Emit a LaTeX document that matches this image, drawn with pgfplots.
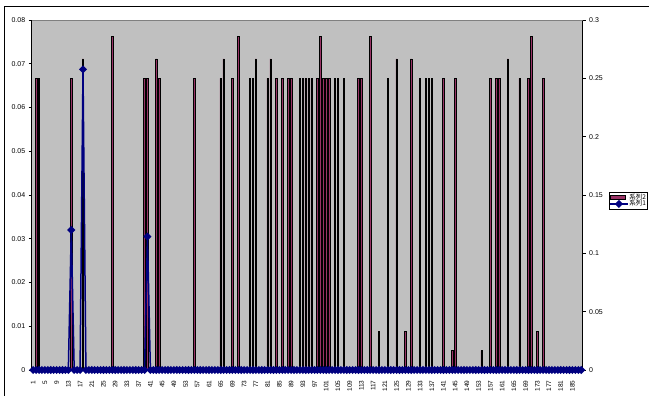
\documentclass[border=0pt]{standalone}
\usepackage{pgfplots}
\pgfplotsset{compat=1.18}
\usepackage{fontspec}
\setmainfont{Liberation Sans}
\newfontfamily\jp{Noto Sans CJK JP}
\definecolor{plum}{HTML}{993366}
\definecolor{navyb}{HTML}{000080}
\definecolor{bg}{HTML}{C0C0C0}
\pgfplotsset{my bar legend/.style={legend image code/.code={\draw[##1] (0pt,-2.2pt) rectangle (15pt,2.2pt);}},
  /pgf/number format/assume math mode=true}
\begin{document}
\begin{tikzpicture}
\useasboundingbox (0,0) rectangle (649pt,396pt);
\begin{scope}
\clip (0,0) rectangle (649pt,396pt);
\draw[line width=1pt] (4pt,-10pt) -- (4pt,389.5pt) -- (700pt,389.5pt);
\end{scope}
\begin{axis}[
  at={(31.7pt,26pt)}, anchor=south west, scale only axis,
  width=551pt, height=350pt,
  xmin=0.5, xmax=188.5, ymin=0, ymax=0.3,
  axis y line*=right, axis x line*=bottom,
  axis background/.style={fill=bg},
  ytick={0,0.05,0.1,0.15,0.2,0.25,0.3},
  yticklabel style={/pgf/number format/fixed, /pgf/number format/precision=2, font=\fontsize{7}{8}\selectfont},
  scaled y ticks=false,
  xtick={1,5,...,185},
  xtick style={draw=none},
  tick align=outside, major tick length=3pt,
  x tick label style={rotate=90, anchor=east, font=\fontsize{6.5}{7}\selectfont},
  xticklabel shift=4pt,
  tick style={black, line width=0.6pt},
  axis line style={black, line width=0.8pt},
]
\draw[gray, line width=0.8pt] (rel axis cs:0,1) -- (rel axis cs:1,1);
\addplot[ybar, bar width=1.5pt, draw=black, line width=0.6pt, fill=plum] table {
x y
2 0.25
3 0.25
14 0.25
18 0.2667
28 0.2857
39 0.25
40 0.25
43 0.2667
44 0.25
56 0.25
65 0.25
66 0.2667
69 0.25
71 0.2857
75 0.25
76 0.25
77 0.2667
81 0.25
82 0.2667
84 0.25
86 0.25
88 0.25
89 0.25
92 0.25
93 0.25
94 0.25
95 0.25
96 0.25
98 0.25
99 0.2857
100 0.25
101 0.25
102 0.25
104 0.25
105 0.25
107 0.25
112 0.25
113 0.25
116 0.2857
119 0.0333
122 0.25
125 0.2667
128 0.0333
130 0.2667
133 0.25
135 0.25
136 0.25
137 0.25
141 0.25
144 0.0167
145 0.25
154 0.0167
157 0.25
159 0.25
160 0.25
163 0.2667
167 0.25
170 0.25
171 0.2857
173 0.0333
175 0.25
};
\end{axis}
\begin{axis}[
  at={(31.7pt,26pt)}, anchor=south west, scale only axis,
  width=551pt, height=350pt,
  xmin=0.5, xmax=188.5, ymin=0, ymax=0.08,
  axis y line*=left, axis x line=none,
  ytick={0,0.01,0.02,0.03,0.04,0.05,0.06,0.07,0.08},
  yticklabel style={/pgf/number format/fixed, /pgf/number format/precision=2, font=\fontsize{7}{8}\selectfont},
  scaled y ticks=false,
  tick align=outside, major tick length=3pt,
  tick style={black, line width=0.6pt},
  axis line style={black, line width=0.8pt},
  clip=false,
  legend cell align=left,
  legend style={at={(1.0477,0.5086)}, anchor=north west, draw=black, fill=white,
    font=\jp\fontsize{6.5}{7}\selectfont, inner sep=0.5pt, row sep=-2pt,
    nodes={inner sep=1pt}},
]
\addlegendimage{draw=black, fill=plum, line width=0.6pt, my bar legend}
\addlegendentry{系列2}
\addplot[navyb, line width=1.5pt, mark=square*, mark size=2.1pt,
  mark options={rotate=45, solid, fill=navyb}] coordinates {
(1,0)(2,0)(3,0)(4,0)(5,0)(6,0)(7,0)(8,0)(9,0)(10,0)
(11,0)(12,0)(13,0)(14,0.032)(15,0)(16,0)(17,0)(18,0.0687)(19,0)(20,0)
(21,0)(22,0)(23,0)(24,0)(25,0)(26,0)(27,0)(28,0)(29,0)(30,0)
(31,0)(32,0)(33,0)(34,0)(35,0)(36,0)(37,0)(38,0)(39,0)(40,0.0305)
(41,0)(42,0)(43,0)(44,0)(45,0)(46,0)(47,0)(48,0)(49,0)(50,0)
(51,0)(52,0)(53,0)(54,0)(55,0)(56,0)(57,0)(58,0)(59,0)(60,0)
(61,0)(62,0)(63,0)(64,0)(65,0)(66,0)(67,0)(68,0)(69,0)(70,0)
(71,0)(72,0)(73,0)(74,0)(75,0)(76,0)(77,0)(78,0)(79,0)(80,0)
(81,0)(82,0)(83,0)(84,0)(85,0)(86,0)(87,0)(88,0)(89,0)(90,0)
(91,0)(92,0)(93,0)(94,0)(95,0)(96,0)(97,0)(98,0)(99,0)(100,0)
(101,0)(102,0)(103,0)(104,0)(105,0)(106,0)(107,0)(108,0)(109,0)(110,0)
(111,0)(112,0)(113,0)(114,0)(115,0)(116,0)(117,0)(118,0)(119,0)(120,0)
(121,0)(122,0)(123,0)(124,0)(125,0)(126,0)(127,0)(128,0)(129,0)(130,0)
(131,0)(132,0)(133,0)(134,0)(135,0)(136,0)(137,0)(138,0)(139,0)(140,0)
(141,0)(142,0)(143,0)(144,0)(145,0)(146,0)(147,0)(148,0)(149,0)(150,0)
(151,0)(152,0)(153,0)(154,0)(155,0)(156,0)(157,0)(158,0)(159,0)(160,0)
(161,0)(162,0)(163,0)(164,0)(165,0)(166,0)(167,0)(168,0)(169,0)(170,0)
(171,0)(172,0)(173,0)(174,0)(175,0)(176,0)(177,0)(178,0)(179,0)(180,0)
(181,0)(182,0)(183,0)(184,0)(185,0)(186,0)(187,0)(188,0)
};
\addlegendentry{系列1}
\end{axis}
\end{tikzpicture}
\end{document}
